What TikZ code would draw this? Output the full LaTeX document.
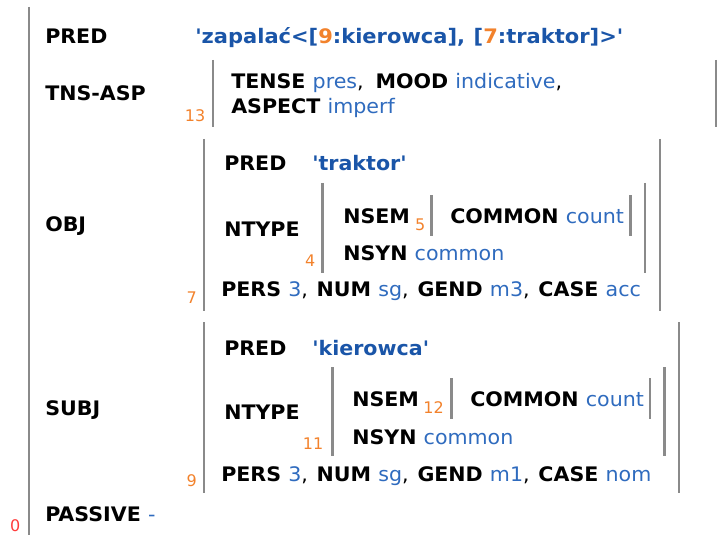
\documentclass[tikz,border=0pt]{standalone}
\usepackage{fontspec}
\newfontfamily\vfont{DejaVu Sans}[FakeStretch=1.03]
\newfontfamily\pfont{DejaVu Sans}[FakeStretch=1.05]
\newfontfamily\nfont{DejaVu Sans}
\definecolor{barcol}{HTML}{8A8A8A}
\definecolor{valblue}{HTML}{2F6BBE}
\definecolor{predblue}{HTML}{1A55A8}
\definecolor{numorange}{HTML}{F2822C}
\definecolor{rootred}{HTML}{FF3B3B}
\newcommand{\vl}[1]{{\mdseries\color{valblue}#1}}
\newcommand{\pv}[1]{{\color{predblue}#1}}
\newcommand{\nm}[1]{{\color{numorange}#1}}
\newcommand{\cm}{{\mdseries,}\hspace{3.5pt} }
\newcommand{\cmn}{{\mdseries,}\hspace{1.2pt} }
\begin{document}
\begin{tikzpicture}[x=0.75pt,y=-0.75pt,
  txt/.style={anchor=base west,inner sep=0pt,font=\vfont\fontsize{15}{18}\selectfont\bfseries},
  num/.style={anchor=base east,inner sep=0pt,font=\nfont\fontsize{12}{14}\selectfont,text=numorange},
  fbar/.style={draw=barcol,line width=1.9pt}]
\useasboundingbox (0,0) rectangle (722,535);
% outer structure
\draw[fbar] (29,7) -- (29,535);
\node[num,text=rootred] (n0) at (20.5,531.5) {0};
\node[txt] (pred) at (45,44) {PRED};
\node[txt,font=\pfont\fontsize{15}{18}\selectfont\bfseries] (predv) at (195,44) {\pv{'zapalać<[}\nm{9}\pv{:kierowca],\hspace{1pt} [}\nm{7}\pv{:traktor]>'}};
\node[txt] (tns) at (45,100.5) {TNS-ASP};
\node[txt] (obj) at (45,231.7) {OBJ};
\node[txt] (subj) at (45,415.7) {SUBJ};
\node[txt] (pass) at (45,521) {PASSIVE \vl{-}};
% TNS-ASP
\draw[fbar] (213,60) -- (213,127);
\draw[fbar] (716,60) -- (716,127);
\node[num] (n13) at (205.5,121.5) {13};
\node[txt] (tense) at (231,88.3) {TENSE \vl{pres}\cm MOOD \vl{indicative}{\mdseries,}};
\node[txt] (aspect) at (231,113.3) {ASPECT \vl{imperf}};
% OBJ
\draw[fbar] (204,139) -- (204,311);
\draw[fbar] (660,139) -- (660,311);
\node[num] (n7) at (197,303.3) {7};
\node[txt] (opred) at (224,170.7) {PRED};
\node[txt] (opredv) at (312,170.7) {\pv{'traktor'}};
\node[txt] (ontype) at (224,236.7) {NTYPE};
\draw[fbar] (322.7,183) -- (322.7,273);
\draw[fbar] (645,183) -- (645,273);
\node[num] (n4) at (315.5,266.7) {4};
\node[txt] (onsem) at (343,223.3) {NSEM};
\node[num] (n5) at (425.5,230) {5};
\draw[fbar] (431.7,195) -- (431.7,236);
\draw[fbar] (630.7,195) -- (630.7,236);
\node[txt] (ocommon) at (450,223.3) {COMMON \vl{count}};
\node[txt] (onsyn) at (343,260) {NSYN \vl{common}};
\node[txt] (opers) at (221,296.7) {PERS \vl{3}\cmn NUM \vl{sg}\cmn GEND \vl{m3}\cmn CASE \vl{acc}};
% SUBJ
\draw[fbar] (204,322) -- (204,493);
\draw[fbar] (679,322) -- (679,493);
\node[num] (n9) at (197,486) {9};
\node[txt] (spred) at (224,355) {PRED};
\node[txt] (spredv) at (312,355) {\pv{'kierowca'}};
\node[txt] (sntype) at (224,419) {NTYPE};
\draw[fbar] (332.7,367) -- (332.7,456);
\draw[fbar] (664.3,367) -- (664.3,456);
\node[num] (n11) at (323.5,449) {11};
\node[txt] (snsem) at (352,406.7) {NSEM};
\node[num] (n12) at (444,413) {12};
\draw[fbar] (451.7,378) -- (451.7,419);
\draw[fbar] (650,378) -- (650,419);
\node[txt] (scommon) at (470,406.7) {COMMON \vl{count}};
\node[txt] (snsyn) at (352,444) {NSYN \vl{common}};
\node[txt] (spers) at (221,481.7) {PERS \vl{3}\cmn NUM \vl{sg}\cmn GEND \vl{m1}\cmn CASE \vl{nom}};
\end{tikzpicture}
\end{document}
